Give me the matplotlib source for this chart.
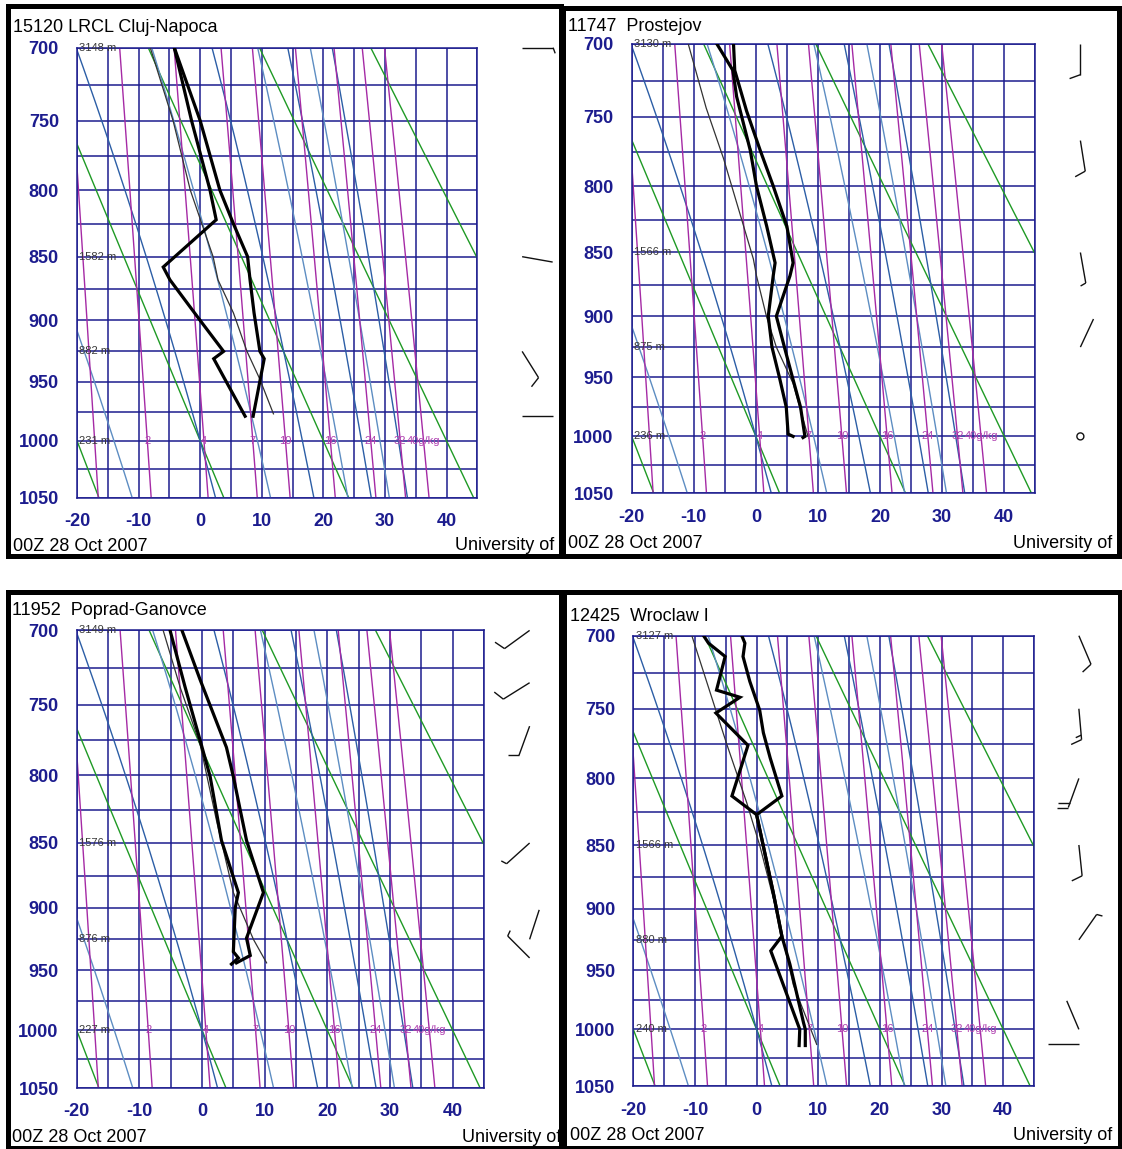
import numpy as np
import matplotlib
matplotlib.use("Agg")
import matplotlib.pyplot as plt
from matplotlib.transforms import blended_transform_factory, ScaledTranslation
from matplotlib.ticker import NullLocator

plt.rcParams['font.family'] = ['Liberation Sans', 'DejaVu Sans']

# ---------------- data ----------------
titles = ["15120 LRCL Cluj-Napoca", "11747  Prostejov", "11952  Poprad-Ganovce", "12425  Wroclaw I"]
date_label = "00Z 28 Oct 2007"
credit_label = "University of"

pressure_ticks = [700, 750, 800, 850, 900, 950, 1000, 1050]
temp_ticks = [-20, -10, 0, 10, 20, 30, 40]
isobars = list(range(700, 1051, 25))
isotherms = list(range(-20, 46, 5))
dry_adiabats_C = [-20, 0, 20, 40, 60]
moist_adiabats_C = [-14.0, 0.0, 9.3, 16.6, 22.3, 26.2, 29.2, 32.2]
mixing_ratios = [1, 2, 4, 7, 10, 16, 24, 32, 40]
mixing_labels = ["", "2", "4", "7", "10", "16", "24", "32", "40g/kg"]
height_levels = [700, 850, 925, 1000]

# Cluj-Napoca
cluj_heights = ["3148 m", "1582 m", "882 m", "231 m"]
cluj_T_p = [700, 750, 800, 825, 850, 868, 894, 925, 931, 979]
cluj_T = [-4.2, 0.0, 3.2, 5.4, 7.7, 8.1, 8.75, 9.7, 10.4, 8.6]
cluj_Td_p = [700, 750, 800, 822, 858, 868, 900, 925, 931, 979]
cluj_Td = [-4.2, -1.4, 1.6, 2.6, -6.0, -4.9, 0.0, 3.8, 2.2, 7.3]
cluj_parcel_p = [700, 750, 800, 850, 868, 894, 925, 948, 977]
cluj_parcel_T = [-8.1, -4.4, -1.6, 2.1, 2.9, 5.4, 7.6, 9.7, 11.9]
cluj_wind_p = [700, 850, 925, 979]
cluj_wind_dir = [90, 100, 148, 90]
cluj_wind_kt = [5, 2, 10, 2]

# Prostejov
prost_heights = ["3130 m", "1566 m", "875 m", "236 m"]
prost_T_p = [700, 718, 746, 774, 800, 830, 858, 868, 900, 925, 950, 975, 1000, 1001]
prost_T = [-3.6, -3.4, -1.5, 0.7, 2.8, 5.0, 6.0, 5.5, 3.3, 4.6, 5.9, 7.2, 7.9, 7.6]
prost_Td_p = [700, 711, 718, 736, 774, 800, 830, 858, 868, 900, 925, 950, 975, 998, 1000]
prost_Td = [-6.3, -4.7, -3.7, -3.1, -0.9, 0.1, 1.75, 3.1, 2.8, 2.0, 2.6, 3.8, 4.9, 5.2, 6.0]
prost_parcel_p = [700, 744, 780, 820, 855, 868, 900, 925, 955, 1000]
prost_parcel_T = [-10.9, -8.0, -5.2, -2.6, -0.4, 0.1, 1.7, 3.3, 6.0, 8.4]
prost_wind_p = [700, 767, 850, 925, 1000]
prost_wind_dir = [180, 171, 170, 25, 0]
prost_wind_kt = [10, 10, 5, 2, 0]

# Poprad-Ganovce
poprad_heights = ["3149 m", "1576 m", "876 m", "227 m"]
poprad_T_p = [700, 733, 780, 801, 848, 888, 924, 938, 944]
poprad_T = [-3.2, -0.3, 3.9, 5.0, 7.1, 9.8, 7.1, 7.7, 5.5]
poprad_Td_p = [700, 738, 775, 801, 848, 888, 900, 935, 940, 945]
poprad_Td = [-5.1, -2.7, -0.3, 1.3, 3.1, 5.8, 5.3, 5.0, 5.8, 4.7]
poprad_parcel_p = [700, 738, 778, 834, 888, 925, 944]
poprad_parcel_T = [-6.2, -3.5, -0.3, 2.35, 5.0, 8.2, 10.3]
poprad_wind_p = [700, 735, 765, 850, 925, 940]
poprad_wind_dir = [234, 238, 200, 228, 18, 315]
poprad_wind_kt = [10, 10, 10, 5, 2, 5]

# Wroclaw
wroc_heights = ["3127 m", "1566 m", "880 m", "240 m"]
wroc_T_p = [700, 705, 714, 731, 751, 767, 785, 813, 827, 851, 887, 922, 945, 994, 1000, 1014]
wroc_T = [-2.4, -1.9, -2.2, -1.1, 0.5, 1.1, 2.2, 4.1, 0.0, 1.1, 2.7, 4.1, 5.4, 7.6, 7.9, 7.9]
wroc_Td_p = [700, 705, 714, 737, 742, 753, 776, 813, 827, 851, 887, 922, 934, 1000, 1014]
wroc_Td = [-8.6, -7.8, -5.1, -6.5, -2.7, -6.6, -1.4, -4.0, 0.0, 1.1, 2.7, 4.1, 2.3, 7.0, 6.9]
wroc_parcel_p = [700, 775, 818, 851, 902, 962, 1013]
wroc_parcel_T = [-10.5, -4.85, -1.6, 0.55, 3.26, 5.95, 9.75]
wroc_wind_p = [700, 750, 800, 850, 925, 1000, 1013]
wroc_wind_dir = [157, 175, 200, 174, 35, 337, 270]
wroc_wind_kt = [10, 15, 20, 10, 5, 2, 2]

stations = [
    (cluj_heights, cluj_T_p, cluj_T, cluj_Td_p, cluj_Td, cluj_parcel_p, cluj_parcel_T,
     cluj_wind_p, cluj_wind_dir, cluj_wind_kt),
    (prost_heights, prost_T_p, prost_T, prost_Td_p, prost_Td, prost_parcel_p, prost_parcel_T,
     prost_wind_p, prost_wind_dir, prost_wind_kt),
    (poprad_heights, poprad_T_p, poprad_T, poprad_Td_p, poprad_Td, poprad_parcel_p, poprad_parcel_T,
     poprad_wind_p, poprad_wind_dir, poprad_wind_kt),
    (wroc_heights, wroc_T_p, wroc_T, wroc_Td_p, wroc_Td, wroc_parcel_p, wroc_parcel_T,
     wroc_wind_p, wroc_wind_dir, wroc_wind_kt),
]

# ---------------- layout (pixels) ----------------
W, H = 1122, 1149
layout = [
    dict(border=(8.3, 5.8, 560.8, 555.7), plot=(77, 47.7, 477.3, 497.7),
         title=(13, 28), date=(13, 546.5), univ=(455, 546)),
    dict(border=(563, 7.5, 1119, 555.5), plot=(631.7, 43.7, 1035.2, 493.3),
         title=(568, 26.7), date=(568, 543.5), univ=(1013, 544)),
    dict(border=(8, 591.5, 561, 1147.5), plot=(76.7, 630.4, 484, 1088.2),
         title=(12, 610.5), date=(12, 1138), univ=(462, 1137)),
    dict(border=(564, 592, 1119.5, 1147.5), plot=(633.3, 635.7, 1034, 1086.4),
         title=(570, 616.8), date=(570, 1135), univ=(1013, 1135)),
]

NAVY = '#1c1c8e'
GREEN = '#1f9a25'
STEEL = '#5d8dc2'
DARKBLUE = '#2c5ea6'
PURPLE = '#a52aa5'
KAPPA = 0.286


def px_rect(l, t, r, b):
    return [l / W, 1 - b / H, (r - l) / W, (b - t) / H]


def t_mix(w, p):
    e = w * p / (622.0 + w)
    a = np.log(e / 6.112)
    return 243.5 * a / (17.67 - a)


def moist_profile(t0):
    def f(p, Tk):
        Tc = Tk - 273.15
        e = 6.112 * np.exp(17.67 * Tc / (Tc + 243.5))
        r = 0.622 * e / (p - e)
        num = 287.04 * Tk + 2.501e6 * r
        den = 1005.7 + 2.501e6 ** 2 * r * 0.622 / (287.04 * Tk ** 2)
        return num / (den * p)

    def run(p_end, n):
        ps = np.linspace(1000.0, p_end, n)
        Ts = [t0 + 273.15]
        for i in range(n - 1):
            h = ps[i + 1] - ps[i]
            p = ps[i]
            T = Ts[-1]
            k1 = f(p, T)
            k2 = f(p + h / 2, T + h * k1 / 2)
            k3 = f(p + h / 2, T + h * k2 / 2)
            k4 = f(p + h, T + h * k3)
            Ts.append(T + h * (k1 + 2 * k2 + 2 * k3 + k4) / 6)
        return ps, np.array(Ts) - 273.15

    pu, tu = run(690.0, 311)
    pdn, tdn = run(1060.0, 61)
    return np.concatenate([pu[::-1], pdn[1:]]), np.concatenate([tu[::-1], tdn[1:]])


def draw_barb(ax, xfrac, p, direction, speed):
    base = blended_transform_factory(ax.transAxes, ax.transData)
    tr = ScaledTranslation(xfrac, p, base)
    kw = dict(color='#111111', lw=1.0, transform=tr, clip_on=False, zorder=6,
              solid_capstyle='butt')
    if speed < 1:
        th = np.linspace(0, 2 * np.pi, 40)
        ax.plot(3.5 * np.cos(th), 3.5 * np.sin(th), **kw)
        return
    L, full, half, gap = 31.0, 11.5, 6.0, 4.5
    d = np.deg2rad(direction)
    ux, uy = np.sin(d), np.cos(d)
    a = np.deg2rad(-70)
    fx = ux * np.cos(a) - uy * np.sin(a)
    fy = ux * np.sin(a) + uy * np.cos(a)
    ax.plot([0, L * ux], [0, L * uy], **kw)
    n_full = int(speed // 10)
    n_half = int((speed % 10) // 5)
    pos = L
    for _ in range(n_full):
        sx, sy = pos * ux, pos * uy
        ax.plot([sx, sx + full * fx], [sy, sy + full * fy], **kw)
        pos -= gap
    for _ in range(n_half):
        sx, sy = pos * ux, pos * uy
        ax.plot([sx, sx + half * fx], [sy, sy + half * fy], **kw)
        pos -= gap


fig = plt.figure(figsize=(W / 100, H / 100), dpi=100)
fig.patch.set_facecolor('white')

p_line = np.linspace(690, 1060, 200)
moist_curves = [moist_profile(t) for t in moist_adiabats_C]

for i, (geo, st) in enumerate(zip(layout, stations)):
    (heights, T_p, T, Td_p, Td, par_p, par_T, w_p, w_dir, w_kt) = st
    x0, y0, x1, y1 = geo['border']
    axf = fig.add_axes(px_rect(x0, y0, x1, y1))
    axf.set_xlim(x0, x1)
    axf.set_ylim(y1, y0)
    axf.set_xticks([])
    axf.set_yticks([])
    for s in axf.spines.values():
        s.set_linewidth(3.6)
        s.set_color('black')
    axf.set_zorder(0)
    axf.text(geo['title'][0], geo['title'][1], titles[i], fontsize=13, va='center',
             ha='left', color='black', clip_on=True)
    axf.text(geo['date'][0], geo['date'][1], date_label, fontsize=13, va='center',
             ha='left', color='black', clip_on=True)
    axf.text(geo['univ'][0], geo['univ'][1], credit_label, fontsize=13, va='center',
             ha='left', color='black', clip_on=True)

    l, t, r, b = geo['plot']
    ax = fig.add_axes(px_rect(l, t, r, b))
    ax.set_zorder(1)
    ax.set_yscale('function', functions=(lambda p: np.power(np.clip(p, 1e-6, None), KAPPA),
                                         lambda y: np.power(np.clip(y, 1e-6, None), 1 / KAPPA)))
    ax.set_xlim(-20, 45)
    ax.set_ylim(1050, 700)

    # grid
    ax.vlines(isotherms, 700, 1050, colors=NAVY, lw=1.1, zorder=1)
    ax.hlines(isobars, -20, 45, colors=NAVY, lw=1.1, zorder=1)
    # dry adiabats
    for th in dry_adiabats_C:
        ax.plot((th + 273.15) * (p_line / 1000.0) ** KAPPA - 273.15, p_line,
                color=GREEN, lw=1.0, zorder=2)
    # moist adiabats
    for k, (pp, tt) in enumerate(moist_curves):
        ax.plot(tt, pp, color=STEEL if k % 2 == 0 else DARKBLUE, lw=1.0, zorder=2)
    # mixing ratio lines
    for w, lab in zip(mixing_ratios, mixing_labels):
        ax.plot(t_mix(w, p_line), p_line, color=PURPLE, lw=1.0, zorder=2)
        if lab:
            ax.text(t_mix(w, 1000.0), 1000, lab, color='#b040b0', fontsize=8,
                    ha='center', va='center', zorder=5)
    # height labels
    bt = blended_transform_factory(ax.transAxes, ax.transData)
    for hp, hl in zip(height_levels, heights):
        ax.text(0.006, hp, hl, transform=bt, fontsize=8, color='#383838',
                ha='left', va='center', zorder=5)
    # sounding
    ax.plot(par_T, par_p, color='#333333', lw=0.9, zorder=3)
    ax.plot(Td, Td_p, color='black', lw=2.3, zorder=4, solid_joinstyle='miter')
    ax.plot(T, T_p, color='black', lw=2.3, zorder=4, solid_joinstyle='miter')

    # axes styling
    for s in ax.spines.values():
        s.set_color(NAVY)
        s.set_linewidth(1.1)
    ax.set_xticks(temp_ticks)
    ax.set_xticklabels([str(v) for v in temp_ticks])
    ax.set_yticks(pressure_ticks)
    ax.set_yticklabels([str(v) for v in pressure_ticks])
    ax.xaxis.set_minor_locator(NullLocator())
    ax.yaxis.set_minor_locator(NullLocator())
    ax.tick_params(axis='x', length=0, pad=11, labelsize=13, labelcolor=NAVY)
    ax.tick_params(axis='y', length=0, pad=13, labelsize=13, labelcolor=NAVY)
    for lbl in ax.get_xticklabels() + ax.get_yticklabels():
        lbl.set_fontweight('bold')

    # wind barbs
    for wp, wd, ws in zip(w_p, w_dir, w_kt):
        draw_barb(ax, 1.112, wp, wd, ws)

fig.savefig('out.png', dpi=100, facecolor='white')
